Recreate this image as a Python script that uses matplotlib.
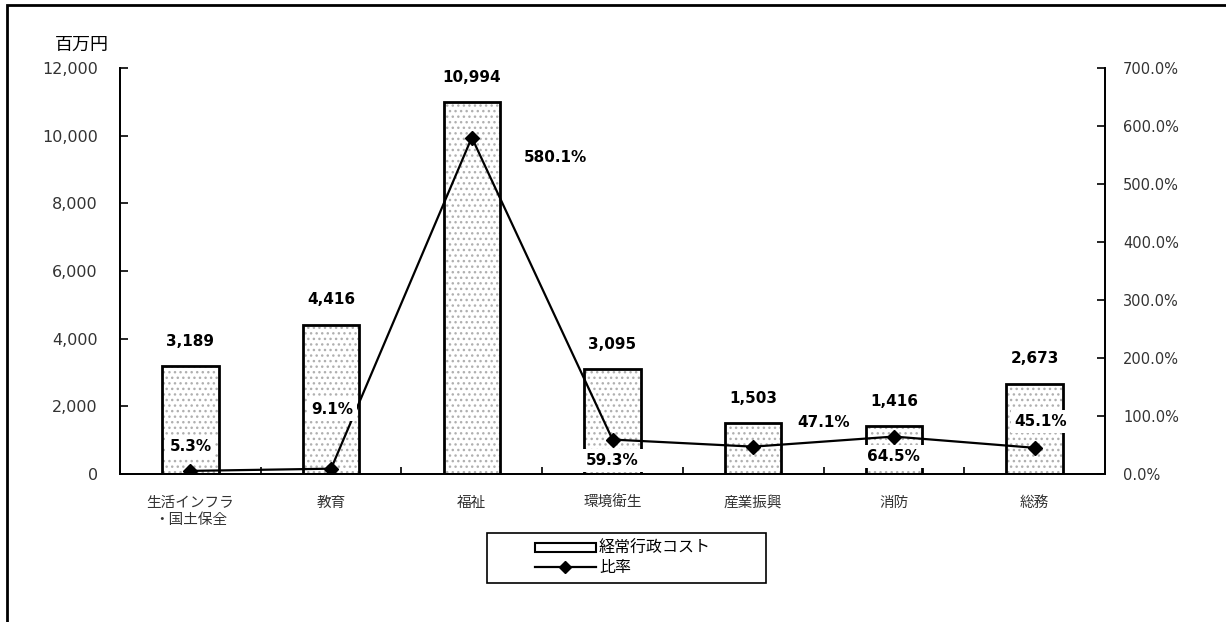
import matplotlib.pyplot as plt
import matplotlib.patches as mpatches
from matplotlib.lines import Line2D
from matplotlib.ticker import FuncFormatter, MultipleLocator

plt.rcParams['font.family'] = ['DejaVu Sans', 'Noto Sans CJK JP']
plt.rcParams['hatch.linewidth'] = 1.0

categories = ['生活インフラ\n・国土保全', '教育', '福祉', '環境衛生', '産業振興', '消防', '総務']
cost = [3189, 4416, 10994, 3095, 1503, 1416, 2673]          # 百万円
ratio = [5.3, 9.1, 580.1, 59.3, 47.1, 64.5, 45.1]            # %

# label offsets (pixels) for the ratio labels, relative to each point
ratio_offsets = [(0, 24), (1, 59), (84, -20), (0, -21), (70, 24), (0, -20), (6, 26)]

jp = ['Noto Sans CJK JP', 'DejaVu Sans']

fig = plt.figure(figsize=(12.26, 6.22), dpi=100)
ax = fig.add_axes([0.0979, 0.238, 0.8034, 0.6527])
ax2 = ax.twinx()

x = list(range(len(categories)))

# hatched fill first, then the black outline on top
ax.bar(x, cost, width=0.4, color='white', edgecolor='#b0b0b0', hatch='...', linewidth=0, zorder=2)
ax.bar(x, cost, width=0.4, fill=False, edgecolor='black', linewidth=2, zorder=3)

for xi, v in zip(x, cost):
    ax.annotate(f'{v:,}', (xi, v), xytext=(0, 25), textcoords='offset pixels',
                ha='center', va='center', fontsize=11, fontweight='bold', zorder=5)

ax.set_xlim(-0.5, len(categories) - 0.5)
ax.set_ylim(0, 12000)
ax.yaxis.set_major_locator(MultipleLocator(2000))
ax.yaxis.set_major_formatter(FuncFormatter(lambda v, p: f'{int(v):,}'))
ax.set_xticks(x)
ax.set_xticklabels(categories, fontsize=10.5, linespacing=1.25, family=jp)
ax.set_xticks([i + 0.5 for i in x[:-1]], minor=True)
ax.tick_params(axis='x', which='major', length=0, pad=16, colors='#333333')
ax.tick_params(axis='x', which='minor', direction='in', length=5, width=1.2)
ax.tick_params(axis='y', direction='in', length=6, width=1.2, pad=16, labelsize=11.5, labelcolor='#333333')

ax2.set_ylim(0, 700)
ax2.yaxis.set_major_locator(MultipleLocator(100))
ax2.yaxis.set_major_formatter(FuncFormatter(lambda v, p: f'{v:.1f}%'))
ax2.tick_params(axis='y', direction='in', length=6, width=1.2, pad=13, labelsize=10.5, labelcolor='#333333')

for a in (ax, ax2):
    a.spines['top'].set_visible(False)
    for s in ('left', 'right', 'bottom'):
        a.spines[s].set_linewidth(1.3)

ax2.set_zorder(ax.get_zorder() + 1)
ax2.patch.set_visible(False)
ax2.plot(x, ratio, color='black', linewidth=1.6, marker='D', markersize=7, zorder=3)

for xi, r, (dx, dy) in zip(x, ratio, ratio_offsets):
    ax2.annotate(f'{r:.1f}%', (xi, r), xytext=(dx, dy), textcoords='offset pixels',
                 ha='center', va='center', fontsize=11, fontweight='bold', zorder=6,
                 bbox=dict(boxstyle='square,pad=0.25', facecolor='white', edgecolor='none'))

fig.text(55 / 1226, 1 - 45 / 622, '百万円', fontsize=13, ha='left', va='center', family=jp)

# outer frame of the chart area
fig.patches.append(mpatches.Rectangle((7 / 1226, -0.05), 1.2, 1.05 - 5 / 622, transform=fig.transFigure,
                                      fill=False, edgecolor='black', linewidth=2))

# legend with its own box
fig.patches.append(mpatches.Rectangle((487 / 1226, 1 - 583 / 622), 279 / 1226, 50 / 622,
                                      transform=fig.transFigure, facecolor='white',
                                      edgecolor='black', linewidth=1.2, zorder=10))
handles = [mpatches.Patch(facecolor='white', edgecolor='black', linewidth=1.5),
           Line2D([], [], color='black', linewidth=1.6, marker='D', markersize=6)]
leg = fig.legend(handles, ['経常行政コスト', '比率'], loc='center',
                 bbox_to_anchor=(623 / 1226, 1 - 558 / 622), frameon=False,
                 prop={'family': jp, 'size': 11.5},
                 handlelength=3.8, handleheight=0.45, handletextpad=0.2, labelspacing=0.1)
leg.set_zorder(11)

fig.savefig('out.png', dpi=100)
